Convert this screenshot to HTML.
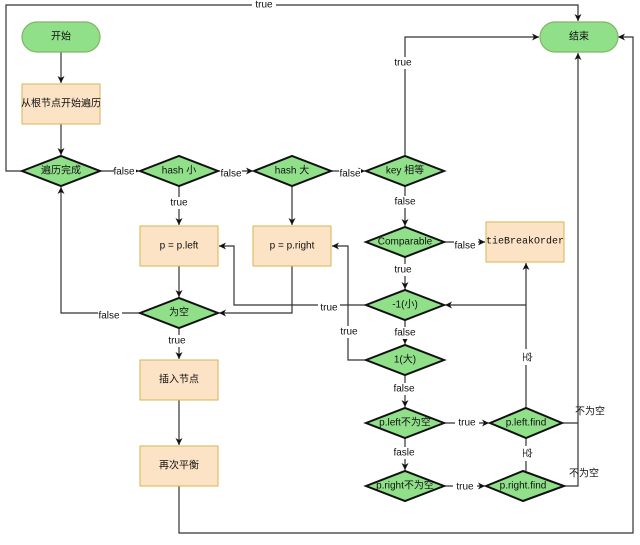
<!DOCTYPE html>
<html><head><meta charset="utf-8"><style>
body{margin:0;background:#fff}
svg text{font-family:"Liberation Sans","Noto Sans CJK SC",sans-serif;font-size:10px;fill:#111}
</style></head><body>
<svg width="640" height="540" viewBox="0 0 640 540" xmlns="http://www.w3.org/2000/svg">
<defs><marker id="a" markerWidth="8" markerHeight="8" refX="7" refY="4" orient="auto" markerUnits="userSpaceOnUse"><path d="M0,0.5 L7,4 L0,7.5 L2,4 Z" fill="#111"/></marker></defs>
<g fill="none" stroke="#333" stroke-width="1.2">
<path d="M61,52V83" marker-end="url(#a)"/>
<path d="M61,124V155" marker-end="url(#a)"/>
<path d="M22,171H6V5H578V21" marker-end="url(#a)"/>
<path d="M100,171H139" marker-end="url(#a)"/>
<path d="M218,171H253" marker-end="url(#a)"/>
<path d="M331,171H365" marker-end="url(#a)"/>
<path d="M405,156V37H539" marker-end="url(#a)"/>
<path d="M405,186V226" marker-end="url(#a)"/>
<path d="M444,242H485" marker-end="url(#a)"/>
<path d="M405,257V289" marker-end="url(#a)"/>
<path d="M179,186V225" marker-end="url(#a)"/>
<path d="M292,186V225" marker-end="url(#a)"/>
<path d="M179,266V297" marker-end="url(#a)"/>
<path d="M292,266V313H219" marker-end="url(#a)"/>
<path d="M366,305H234V246H219" marker-end="url(#a)"/>
<path d="M366,360H348V246H332" marker-end="url(#a)"/>
<path d="M405,320V344" marker-end="url(#a)"/>
<path d="M405,375V407" marker-end="url(#a)"/>
<path d="M405,438V470" marker-end="url(#a)"/>
<path d="M140,313H61V187" marker-end="url(#a)"/>
<path d="M179,328V359" marker-end="url(#a)"/>
<path d="M179,400V445" marker-end="url(#a)"/>
<path d="M179,486V533H633V37H618" marker-end="url(#a)"/>
<path d="M444,423H489" marker-end="url(#a)"/>
<path d="M444,486H485" marker-end="url(#a)"/>
<path d="M562,423H578M564,486H578V53" marker-end="url(#a)"/>
<path d="M526,408V263" marker-end="url(#a)"/>
<path d="M526,305H445" marker-end="url(#a)"/>
<path d="M526,438V471"/>
</g>
<g stroke="#82b366" stroke-width="1.2" fill="#90e08a">
<rect x="22" y="22" width="78" height="30" rx="15"/>
<rect x="540" y="22" width="78" height="30" rx="15"/>
</g>
<g stroke="#d6b656" stroke-width="1" fill="#fde3c6">
<rect x="22" y="84" width="78" height="40"/>
<rect x="140" y="226" width="78" height="40"/>
<rect x="253" y="226" width="78" height="40"/>
<rect x="486" y="222" width="78" height="40"/>
<rect x="140" y="360" width="78" height="40"/>
<rect x="140" y="446" width="78" height="40"/>
</g>
<g stroke="#111" stroke-width="2" fill="#90e08a">
<polygon points="22,171 61,156 100,171 61,186"/>
<polygon points="140,171 179,156 218,171 179,186"/>
<polygon points="254,171 292,156 331,171 292,186"/>
<polygon points="366,171 405,156 444,171 405,186"/>
<polygon points="366,242 405,227 444,242 405,257"/>
<polygon points="366,305 405,290 444,305 405,320"/>
<polygon points="140,313 179,298 218,313 179,328"/>
<polygon points="366,360 405,345 444,360 405,375"/>
<polygon points="366,423 405,408 444,423 405,438"/>
<polygon points="490,423 526,408 562,423 526,438"/>
<polygon points="366,486 405,471 444,486 405,501"/>
<polygon points="486,486 523,471 564,486 523,501"/>
</g>
<g text-anchor="middle" dominant-baseline="central">
<text x="61" y="37">开始</text><text x="579" y="37">结束</text>
<text x="61" y="104">从根节点开始遍历</text>
<text x="61" y="171">遍历完成</text><text x="179" y="171">hash 小</text>
<text x="292" y="171">hash 大</text><text x="405" y="171">key 相等</text>
<text x="405" y="242">Comparable</text>
<text x="525" y="242" style="font-family:'Liberation Mono',monospace">tieBreakOrder</text>
<text x="179" y="246">p = p.left</text><text x="292" y="246">p = p.right</text>
<text x="405" y="305">-1(小)</text><text x="179" y="313">为空</text>
<text x="405" y="360">1(大)</text><text x="179" y="380">插入节点</text>
<text x="179" y="466">再次平衡</text>
<text x="405" y="423">p.left不为空</text><text x="526" y="423">p.left.find</text>
<text x="405" y="486">p.right不为空</text><text x="523" y="486">p.right.find</text>
</g>
<g text-anchor="middle" dominant-baseline="central">
<rect x="252" y="0" width="24" height="10" fill="#fff"/><text x="264" y="5">true</text>
<rect x="114" y="166" width="22" height="11" fill="#fff"/><text x="124" y="172">false</text>
<rect x="220" y="169" width="22" height="11" fill="#fff"/><text x="231" y="174">false</text>
<rect x="339" y="169" width="22" height="11" fill="#fff"/><text x="350" y="174">false</text>
<rect x="392" y="57" width="24" height="12" fill="#fff"/><text x="403" y="63">true</text>
<rect x="393" y="196" width="24" height="12" fill="#fff"/><text x="405" y="202">false</text>
<rect x="454" y="240" width="24" height="12" fill="#fff"/><text x="465" y="246">false</text>
<rect x="392" y="264" width="24" height="12" fill="#fff"/><text x="403" y="270">true</text>
<rect x="168" y="197" width="24" height="12" fill="#fff"/><text x="179" y="203">true</text>
<rect x="318" y="302" width="22" height="12" fill="#fff"/><text x="329" y="308">true</text>
<rect x="338" y="326" width="22" height="12" fill="#fff"/><text x="349" y="332">true</text>
<rect x="393" y="327" width="24" height="12" fill="#fff"/><text x="405" y="333">false</text>
<rect x="393" y="383" width="24" height="12" fill="#fff"/><text x="404" y="389">false</text>
<rect x="393" y="447" width="24" height="12" fill="#fff"/><text x="404" y="453">fasle</text>
<rect x="98" y="310" width="24" height="12" fill="#fff"/><text x="109" y="316">false</text>
<rect x="166" y="335" width="24" height="12" fill="#fff"/><text x="177" y="341">true</text>
<rect x="455" y="417" width="24" height="12" fill="#fff"/><text x="467" y="423">true</text>
<rect x="453" y="481" width="24" height="12" fill="#fff"/><text x="465" y="487">true</text>
<text x="590" y="412">不为空</text><text x="584" y="474">不为空</text>
<rect x="520" y="349" width="12" height="16" fill="#fff"/><text x="526" y="357" transform="rotate(90 526 357)">空</text>
<rect x="520" y="446" width="12" height="15" fill="#fff"/><text x="526" y="453" transform="rotate(90 526 453)">空</text>
</g>
</svg>
</body></html>
